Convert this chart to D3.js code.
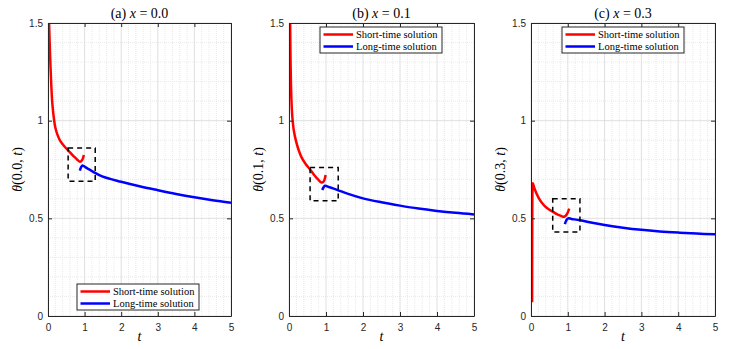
<!DOCTYPE html>
<html>
<head>
<meta charset="utf-8">
<script src="https://cdn.jsdelivr.net/npm/d3@7"></script>
<style>
body { margin: 0; background: #fff; }
.tick text { font-family: "Liberation Sans", Arial, sans-serif; font-size: 10px; fill: #262626; }
</style>
</head>
<body>
<svg id="chart" width="730" height="349"></svg>
<script>
// values, [t, theta]
var shortA = [[0.03,1.5],[0.055,1.345],[0.09,1.18],[0.12,1.085],[0.165,1.005],[0.2,0.965],[0.255,0.93],[0.33,0.898],[0.44,0.87],[0.55,0.848],[0.71,0.816],[0.8,0.8],[0.875,0.79],[0.93,0.797],[0.98,0.824]];
var longA  = [[0.87,0.744],[0.9,0.76],[0.94,0.77],[1.05,0.758],[1.2,0.742],[1.48,0.715],[2,0.687],[2.5,0.664],[3,0.644],[3.5,0.625],[4,0.608],[4.5,0.593],[5,0.58]];
var shortB = [[0.03,1.5],[0.045,1.27],[0.065,1.11],[0.09,1.02],[0.13,0.95],[0.19,0.895],[0.26,0.85],[0.34,0.812],[0.45,0.778],[0.57,0.75],[0.68,0.722],[0.79,0.698],[0.88,0.683],[0.94,0.69],[0.99,0.722]];
var longB  = [[0.9,0.645],[0.93,0.658],[0.97,0.667],[1.1,0.659],[1.3,0.646],[1.6,0.625],[2,0.602],[2.5,0.582],[3,0.565],[3.5,0.55],[4,0.538],[4.5,0.528],[5,0.52]];
var shortC = [[0.03,0.07],[0.034,0.5],[0.04,0.64],[0.05,0.68],[0.1,0.65],[0.2,0.607],[0.3,0.578],[0.4,0.558],[0.5,0.544],[0.6,0.533],[0.7,0.522],[0.8,0.514],[0.9,0.508],[0.97,0.52],[1.04,0.55]];
var longC  = [[0.92,0.47],[0.96,0.49],[1.01,0.5],[1.1,0.497],[1.33,0.49],[1.7,0.476],[2,0.466],[2.5,0.452],[3,0.441],[3.5,0.433],[4,0.427],[4.5,0.422],[5,0.418]];
// dashed zoom boxes [t0, t1, v0, v1]
var boxA = [0.55, 1.29, 0.69, 0.86];
var boxB = [0.57, 1.33, 0.59, 0.76];
var boxC = [0.59, 1.33, 0.43, 0.6];
var panelTitles = ["(a) ", "(b) ", "(c) "];
var xValues = ["0.0", "0.1", "0.3"];
var xTicks = [0, 1, 2, 3, 4, 5];
var yTicks = [0, 0.5, 1, 1.5];
var legendNames = ["Short-time solution", "Long-time solution"];
var colors = ["#ff0000", "#0000ff"];

var panels = [
  {left: 48, right: 231, short: shortA, long: longA, box: boxA, legend: "bottom"},
  {left: 289, right: 474, short: shortB, long: longB, box: boxB, legend: "top"},
  {left: 531, right: 715, short: shortC, long: longC, box: boxC, legend: "top"}
];
var plotTop = 23, plotBottom = 316;
var svg = d3.select("#chart");

panels.forEach(function(p, i) {
  var x = d3.scaleLinear().domain([0, 5]).range([p.left, p.right]);
  var y = d3.scaleLinear().domain([0, 1.5]).range([plotBottom, plotTop]);
  var g = svg.append("g");

  // grid
  var minorX = d3.range(0, 5.001, 0.2).filter(function(d) { return Math.abs(d - Math.round(d)) > 1e-6; });
  var minorY = d3.range(0, 1.501, 0.1).filter(function(d) { return Math.abs(d * 2 - Math.round(d * 2)) > 1e-6; });
  g.selectAll(".mx").data(minorX).enter().append("line")
    .attr("x1", x).attr("x2", x).attr("y1", plotTop).attr("y2", plotBottom)
    .attr("stroke", "#e3e3e3").attr("stroke-width", 0.8).attr("stroke-dasharray", "1,1");
  g.selectAll(".my").data(minorY).enter().append("line")
    .attr("y1", y).attr("y2", y).attr("x1", p.left).attr("x2", p.right)
    .attr("stroke", "#e3e3e3").attr("stroke-width", 0.8).attr("stroke-dasharray", "1,1");
  g.selectAll(".gx").data(xTicks).enter().append("line")
    .attr("x1", x).attr("x2", x).attr("y1", plotTop).attr("y2", plotBottom)
    .attr("stroke", "#d8d8d8").attr("stroke-width", 0.8);
  g.selectAll(".gy").data(yTicks).enter().append("line")
    .attr("y1", y).attr("y2", y).attr("x1", p.left).attr("x2", p.right)
    .attr("stroke", "#d8d8d8").attr("stroke-width", 0.8);

  // curves
  var clipId = "clip" + i;
  svg.append("clipPath").attr("id", clipId).append("rect")
    .attr("x", p.left).attr("y", plotTop).attr("width", p.right - p.left).attr("height", plotBottom - plotTop);
  var line = d3.line().x(function(d) { return x(d[0]); }).y(function(d) { return y(d[1]); })
    .curve(d3.curveCatmullRom.alpha(0.5));
  g.append("path").datum(p.short).attr("d", line).attr("fill", "none")
    .attr("stroke", colors[0]).attr("stroke-width", 2.5).attr("clip-path", "url(#" + clipId + ")");
  g.append("path").datum(p.long).attr("d", line).attr("fill", "none")
    .attr("stroke", colors[1]).attr("stroke-width", 2.5).attr("clip-path", "url(#" + clipId + ")");

  // dashed box
  g.append("rect")
    .attr("x", x(p.box[0])).attr("y", y(p.box[3]))
    .attr("width", x(p.box[1]) - x(p.box[0])).attr("height", y(p.box[2]) - y(p.box[3]))
    .attr("fill", "none").attr("stroke", "#000").attr("stroke-width", 1.5).attr("stroke-dasharray", "5,4");

  // axes
  var ax = g.append("g").attr("transform", "translate(0," + plotBottom + ")")
    .call(d3.axisBottom(x).tickValues(xTicks).tickSize(-4).tickSizeOuter(0).tickPadding(8).tickFormat(d3.format("d")));
  var ay = g.append("g").attr("transform", "translate(" + p.left + ",0)")
    .call(d3.axisLeft(y).tickValues(yTicks).tickSize(-4).tickSizeOuter(0).tickPadding(5).tickFormat(function(d) { return String(d); }));
  var at = g.append("g").attr("transform", "translate(0," + plotTop + ")")
    .call(d3.axisTop(x).tickValues(xTicks).tickSize(-4).tickSizeOuter(0).tickFormat(""));
  var ar = g.append("g").attr("transform", "translate(" + p.right + ",0)")
    .call(d3.axisRight(y).tickValues(yTicks).tickSize(-4).tickSizeOuter(0).tickFormat(""));
  [ax, ay, at, ar].forEach(function(a) {
    a.selectAll("path, line").attr("stroke", "#262626").attr("stroke-width", 1);
  });

  // title
  var cx = (p.left + p.right) / 2;
  var t = g.append("text").attr("x", cx).attr("y", 18).attr("text-anchor", "middle")
    .attr("font-family", "Liberation Serif, serif").attr("font-size", 14).attr("fill", "#000");
  t.append("tspan").text(panelTitles[i]);
  t.append("tspan").attr("font-style", "italic").text("x");
  t.append("tspan").text(" = " + xValues[i]);

  // axis labels
  g.append("text").attr("x", cx).attr("y", 341).attr("text-anchor", "middle")
    .attr("font-family", "Liberation Serif, serif").attr("font-size", 14).attr("font-style", "italic").text("t");
  var yl = g.append("text").attr("transform", "translate(" + (p.left - 26) + "," + ((plotTop + plotBottom) / 2) + ") rotate(-90)")
    .attr("text-anchor", "middle").attr("font-family", "Liberation Serif, serif").attr("font-size", 14);
  yl.append("tspan").attr("font-style", "italic").text("θ");
  yl.append("tspan").text("(" + xValues[i] + ", ");
  yl.append("tspan").attr("font-style", "italic").text("t");
  yl.append("tspan").text(")");

  // legend
  var lw = 122, lh = 26;
  var lx = p.legend === "bottom" ? p.left + 29 : p.left + 31;
  var ly = p.legend === "bottom" ? 284 : 27;
  var lg = g.append("g").attr("transform", "translate(" + lx + "," + ly + ")");
  lg.append("rect").attr("width", lw).attr("height", lh).attr("fill", "#fff")
    .attr("stroke", "#262626").attr("stroke-width", 1);
  legendNames.forEach(function(n, k) {
    var yy = 7.5 + k * 12;
    lg.append("line").attr("x1", 3.5).attr("x2", 33).attr("y1", yy).attr("y2", yy)
      .attr("stroke", colors[k]).attr("stroke-width", 2.5);
    lg.append("text").attr("x", 36).attr("y", yy + 3.5)
      .attr("font-family", "Liberation Serif, serif").attr("font-size", 10.5).attr("fill", "#000").text(n);
  });
});
</script>
</body>
</html>
